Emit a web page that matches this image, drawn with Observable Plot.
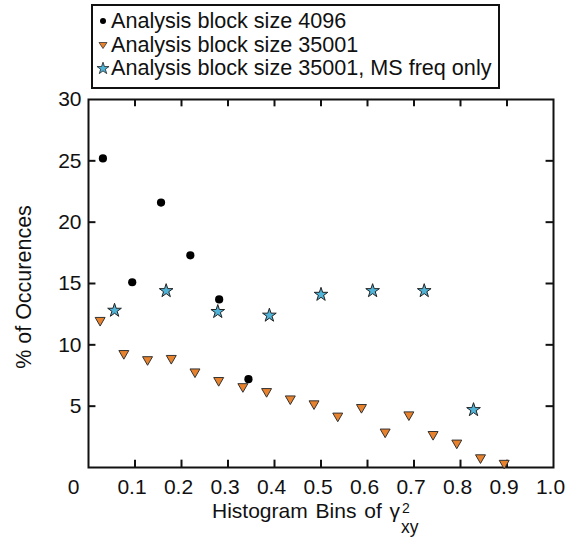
<!DOCTYPE html>
<html>
<head>
<meta charset="utf-8">
<script src="https://cdn.jsdelivr.net/npm/d3@7"></script>
<script src="https://cdn.jsdelivr.net/npm/@observablehq/plot@0.6"></script>
<style>
  html, body { margin: 0; padding: 0; background: #fff; }
  #wrap { position: relative; width: 573px; height: 539px; font-family: "Liberation Sans", Arial, sans-serif; color: #111; }
  #legend { position: absolute; left: 91px; top: 4px; width: 405px; height: 81px; border: 2px solid #111; background: #fff; font-size: 21.6px; }
  .item { position: absolute; left: 0; height: 24px; line-height: 24px; white-space: nowrap; }
  .item svg { position: absolute; left: 3px; top: 5px; }
  .item span { position: absolute; left: 18px; top: 0; }
  #ytitle { position: absolute; left: 24px; top: 287px; transform: translate(-50%, -50%) rotate(-90deg); font-size: 21.5px; white-space: nowrap; line-height: 22px; }
</style>
</head>
<body>
<div id="wrap">
  <div id="chart"></div>
  <div id="legend"></div>
  <div id="ytitle">% of Occurences</div>
</div>
<script>
// ---- data ----
const seriesNames = ["Analysis block size 4096", "Analysis block size 35001", "Analysis block size 35001, MS freq only"];

const block4096X = [0.031, 0.094, 0.156, 0.219, 0.281, 0.344];
const block4096Y = [25.2, 15.1, 21.6, 17.3, 13.7, 7.2];

const block35001X = [0.025, 0.076, 0.127, 0.178, 0.229, 0.280, 0.332, 0.383, 0.434, 0.485, 0.536, 0.587, 0.638, 0.689, 0.741, 0.792, 0.843, 0.894];
const block35001Y = [12.0, 9.3, 8.8, 8.9, 7.8, 7.1, 6.6, 6.2, 5.6, 5.2, 4.2, 4.9, 2.9, 4.3, 2.7, 2.0, 0.8, 0.35];

const msFreqX = [0.056, 0.167, 0.278, 0.389, 0.500, 0.611, 0.722, 0.828];
const msFreqY = [12.8, 14.4, 12.7, 12.4, 14.1, 14.4, 14.4, 4.7];

const xTickValues = [0.1, 0.2, 0.3, 0.4, 0.5, 0.6, 0.7, 0.8, 0.9];
const xTickLabels = ["0.1", "0.2", "0.3", "0.4", "0.5", "0.6", "0.7", "0.8", "0.9", "1.0"];
const xLabelValues = [0.1, 0.2, 0.3, 0.4, 0.5, 0.6, 0.7, 0.8, 0.9, 1.0];
const yTickValues = [5, 10, 15, 20, 25];
const yLabelValues = [5, 10, 15, 20, 25, 30];
const xTitleMain = "Histogram Bins of γ";
const xTitleSup = "2";
const xTitleSub = "xy";

// ---- build ----
const s1 = block4096X.map((x, i) => ({x, y: block4096Y[i]}));
const s2 = block35001X.map((x, i) => ({x, y: block35001Y[i]}));
const s3 = msFreqX.map((x, i) => ({x, y: msFreqY[i]}));
const xLabels = xLabelValues.map((v, i) => ({v, t: xTickLabels[i]}));

const font = "Liberation Sans, Arial, sans-serif";
const chart = Plot.plot({
  width: 573,
  height: 539,
  marginLeft: 88,
  marginRight: 20,
  marginTop: 99,
  marginBottom: 72,
  style: {fontFamily: font, background: "#fff"},
  x: {domain: [0, 1], axis: null},
  y: {domain: [0, 30], axis: null},
  marks: [
    // inward ticks
    Plot.ruleX(xTickValues, {x: d => d, y1: 0, y2: 0.6, stroke: "#111", strokeWidth: 2}),
    Plot.ruleX(xTickValues, {x: d => d, y1: 30, y2: 29.4, stroke: "#111", strokeWidth: 2}),
    Plot.ruleY(yTickValues, {y: d => d, x1: 0, x2: 0.016, stroke: "#111", strokeWidth: 2}),
    Plot.ruleY(yTickValues, {y: d => d, x1: 1, x2: 0.984, stroke: "#111", strokeWidth: 2}),
    Plot.frame({stroke: "#111", strokeWidth: 2}),
    // tick labels
    Plot.text(xLabels, {x: "v", y: 0, text: "t", dy: 20, dx: -3, fontSize: 21, fill: "#111"}),
    Plot.text(["0"], {x: 0, y: 0, text: d => d, dy: 20, dx: -15, fontSize: 21, fill: "#111"}),
    Plot.text(yLabelValues, {x: 0, y: d => d, text: d => String(d), dx: -7, textAnchor: "end", fontSize: 21, fill: "#111"}),
    // data
    Plot.dot(s2, {x: "x", y: "y", symbol: "triangle", rotate: 180, r: 3.7, fill: "#e8822c", stroke: "#333", strokeWidth: 1}),
    Plot.dot(s1, {x: "x", y: "y", symbol: "circle", r: 4.1, fill: "#000", stroke: "none"}),
    Plot.dot(s3, {x: "x", y: "y", symbol: "star", r: 4.3, fill: "#4fb4d8", stroke: "#222", strokeWidth: 1})
  ]
});
document.getElementById("chart").appendChild(chart);

// x-axis title with stacked super/subscript (one text element)
const svg = d3.select(chart);
const title = svg.append("text")
  .attr("font-family", font).attr("fill", "#111").attr("text-anchor", "start")
  .attr("x", 212).attr("y", 518).attr("font-size", 21).attr("word-spacing", 2);
const mainSpan = title.append("tspan").text(xTitleMain);
const endX = 212 + mainSpan.node().getComputedTextLength();
title.append("tspan").attr("x", endX + 2).attr("y", 513).attr("font-size", 14).text(xTitleSup);
title.append("tspan").attr("x", endX + 1).attr("y", 533).attr("font-size", 17.5).text(xTitleSub);

// legend
const legend = document.getElementById("legend");
const icons = [
  '<svg width="14" height="14"><circle cx="7" cy="7" r="3" fill="#000"/></svg>',
  '<svg width="14" height="14"><path d="M3,4.5 L11,4.5 L7,10.5 Z" fill="#e8822c" stroke="#333" stroke-width="0.8"/></svg>',
  '<svg width="14" height="14"><path d="' + d3.symbol(d3.symbolStar, 45)() + '" transform="translate(7,7.5)" fill="#4fb4d8" stroke="#222" stroke-width="0.8"/></svg>'
];
seriesNames.forEach((name, i) => {
  const div = document.createElement("div");
  div.className = "item";
  div.style.top = (3 + i * 23.5) + "px";
  div.innerHTML = icons[i] + "<span>" + name + "</span>";
  legend.appendChild(div);
});
</script>
</body>
</html>
